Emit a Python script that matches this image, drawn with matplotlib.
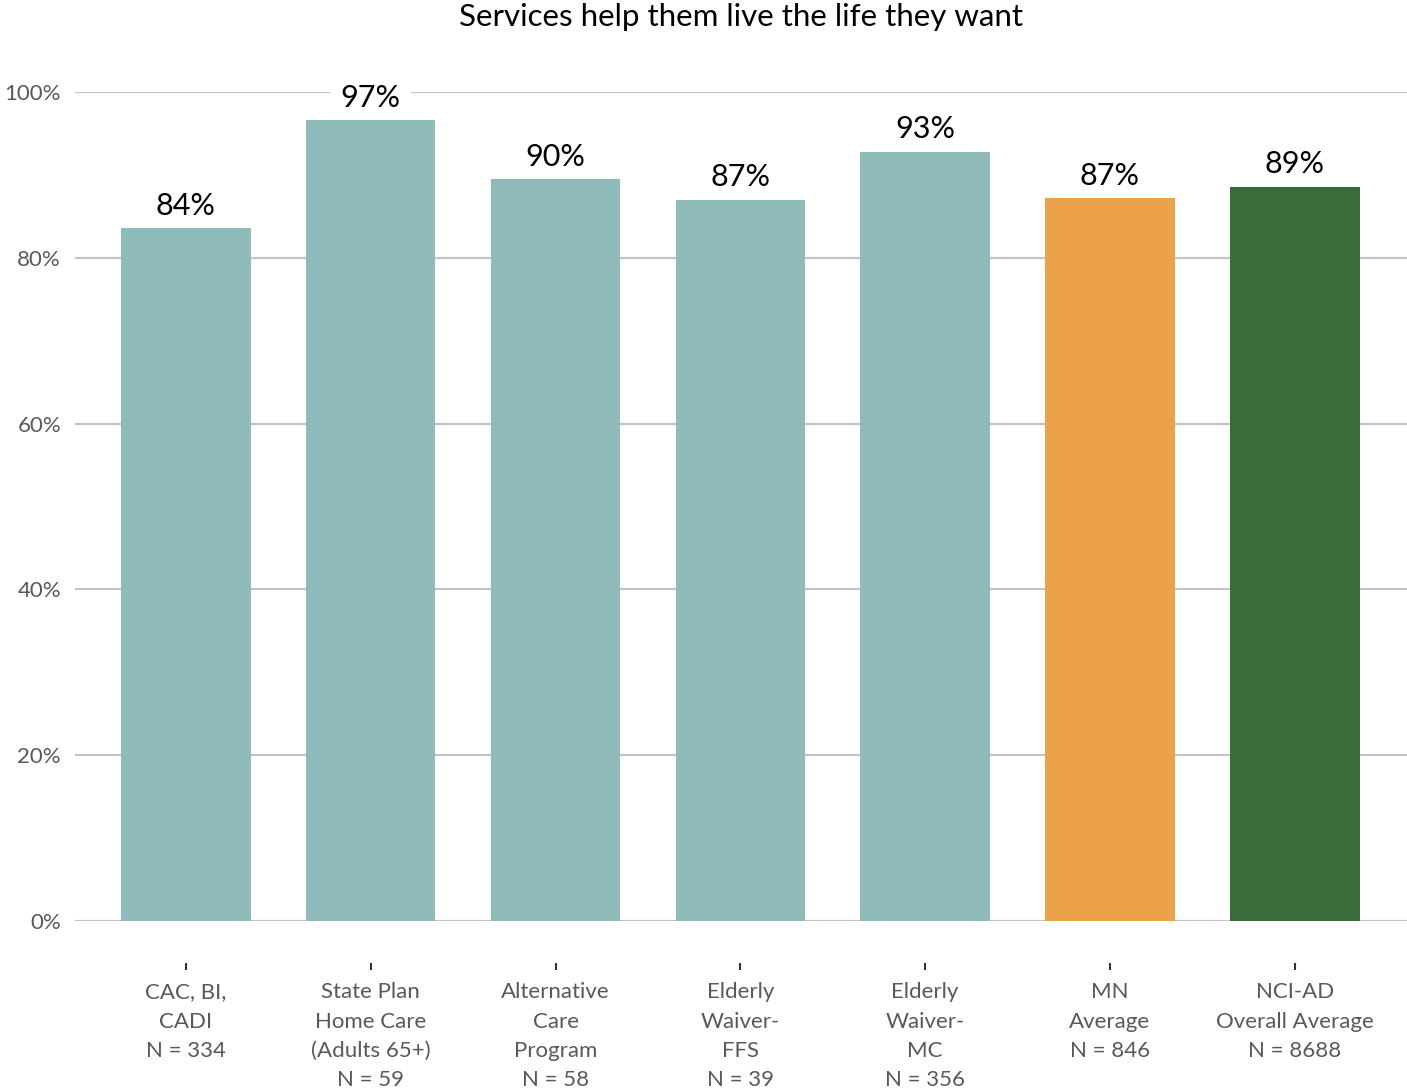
import matplotlib
matplotlib.use("Agg")

import matplotlib.pyplot as plt

plt.rcParams["font.family"] = ["Lato", "DejaVu Sans"]

# Share of respondents saying services help them live the life they want
programs = [
    "CAC, BI,\nCADI\nN = 334",
    "State Plan\nHome Care\n(Adults 65+)\nN = 59",
    "Alternative\nCare\nProgram\nN = 58",
    "Elderly\nWaiver-\nFFS\nN = 39",
    "Elderly\nWaiver-\nMC\nN = 356",
    "MN\nAverage\nN = 846",
    "NCI-AD\nOverall Average\nN = 8688",
]
percent = [83.6, 96.6, 89.5, 87.0, 92.8, 87.2, 88.6]
bar_colors = [
    "#8FBCBB", "#8FBCBB", "#8FBCBB", "#8FBCBB", "#8FBCBB",
    "#ECA14B", "#386C38",
]
y_ticks = [0, 20, 40, 60, 80, 100]

W, H = 1407, 1091
fig = plt.figure(figsize=(W / 100, H / 100), dpi=100)
ax = fig.add_axes([75 / W, (H - 921) / H, (W - 75) / W, (921 - 92) / H])

x = list(range(len(programs)))
ax.bar(x, percent, width=0.70, color=bar_colors, linewidth=0, zorder=3)

# value labels sit under the bars so their white boxes only hide gridlines
for xi, v in zip(x, percent):
    ax.annotate(
        f"{v:.0f}%",
        xy=(xi, v),
        xytext=(0, 6),
        textcoords="offset points",
        ha="center",
        va="bottom",
        fontsize=22,
        color="black",
        zorder=2.5,
        bbox=dict(boxstyle="square,pad=0.35", fc="white", ec="none"),
        annotation_clip=False,
    )

ax.set_xlim(-0.6, 6.607)
ax.set_ylim(0, 100)

ax.set_yticks(y_ticks)
ax.set_yticklabels([f"{t}%" for t in y_ticks])
ax.yaxis.grid(True, color="#C4C4C4", linewidth=1.6)
ax.set_axisbelow(True)

# category names drawn as text so the line spacing can be opened up
ax.set_xticks(x)
ax.set_xticklabels([])
for xi, name in zip(x, programs):
    ax.text(xi, -0.074, name, transform=ax.get_xaxis_transform(),
            ha="center", va="top", linespacing=1.58,
            fontsize=16, color="#595959")

for side in ["top", "right", "left"]:
    ax.spines[side].set_visible(False)
ax.spines["bottom"].set_position(("outward", 30))
ax.spines["bottom"].set_visible(False)

ax.tick_params(axis="y", length=0, pad=10, labelsize=16, labelcolor="#595959")
ax.tick_params(axis="x", length=5, width=1.5, color="#333333")

fig.text(0.5 * (75 + W) / W, 1 - 17 / H,
         "Services help them live the life they want",
         ha="center", va="center", fontsize=22.5, color="black")

fig.savefig("out.png", dpi=100, facecolor="white")
plt.close(fig)
